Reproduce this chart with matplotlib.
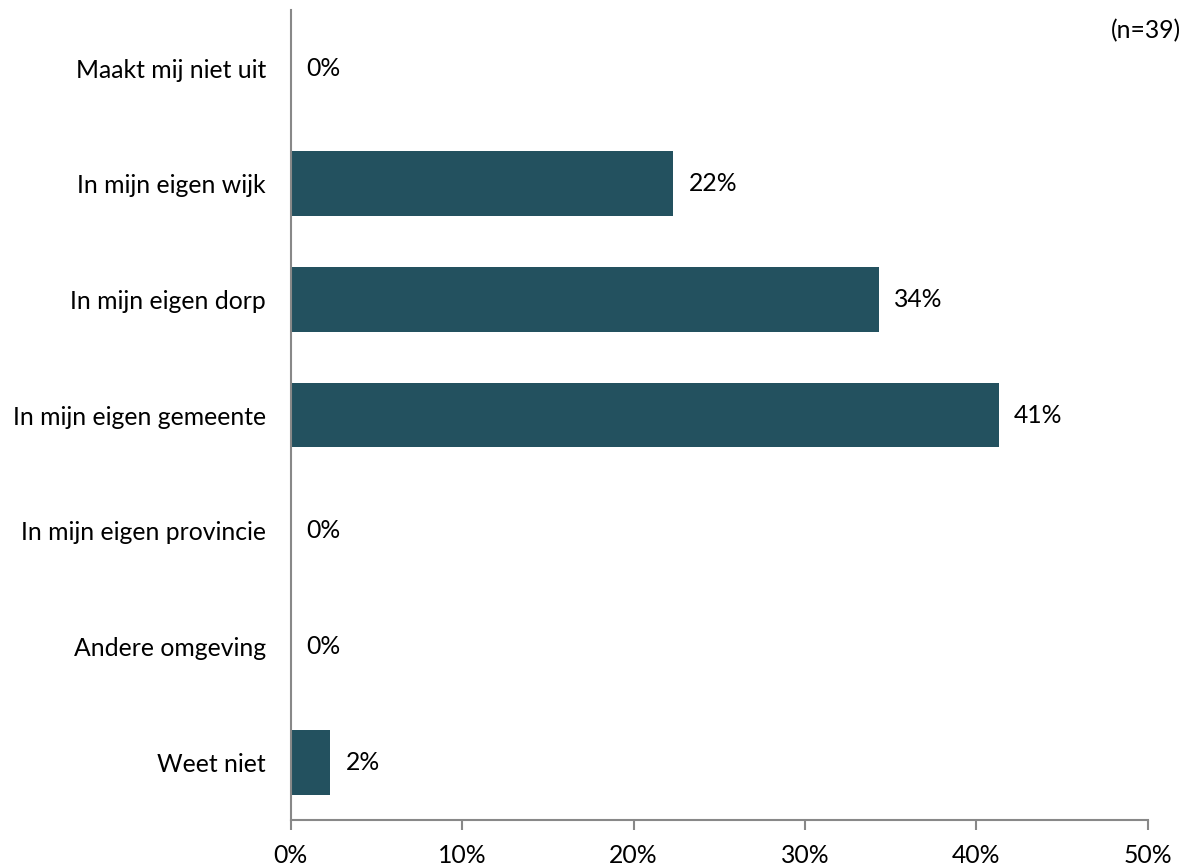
import matplotlib
matplotlib.use("Agg")
import matplotlib.pyplot as plt
from matplotlib.ticker import FuncFormatter

categories = ["Maakt mij niet uit", "In mijn eigen wijk", "In mijn eigen dorp",
              "In mijn eigen gemeente", "In mijn eigen provincie", "Andere omgeving", "Weet niet"]
values = [0.0, 22.3, 34.3, 41.3, 0.0, 0.0, 2.3]
labels = ["0%", "22%", "34%", "41%", "0%", "0%", "2%"]
xticks = [0, 10, 20, 30, 40, 50]

plt.rcParams['font.family'] = ['Lato', 'DejaVu Sans']
FS = 17.8

fig = plt.figure(figsize=(11.92, 8.68), dpi=100)
ax = fig.add_axes([0.244, 0.0553, 0.719, 0.933])

ypos = list(range(len(categories)))
ax.barh(ypos, values, height=0.56, color="#23515F")
for y, v, lab in zip(ypos, values, labels):
    ax.text(v + 0.9, y, lab, va="center", ha="left", fontsize=FS, color="#000000")

ax.set_ylim(len(categories) - 0.5, -0.5)
ax.set_xlim(0, 50)
ax.set_yticks(ypos)
ax.set_yticklabels(categories, fontsize=FS)
ax.tick_params(axis="y", length=0, pad=18)
ax.set_xticks(xticks)
ax.xaxis.set_major_formatter(FuncFormatter(lambda x, p: f"{int(x)}%"))
ax.tick_params(axis="x", length=7, width=1.5, color="#888888", labelsize=FS, pad=10)

for s in ["top", "right"]:
    ax.spines[s].set_visible(False)
for s in ["left", "bottom"]:
    ax.spines[s].set_color("#888888")
    ax.spines[s].set_linewidth(1.5)

fig.text(0.991, 0.965, "(n=39)", ha="right", va="center", fontsize=FS)

fig.savefig("out.png", dpi=100)
